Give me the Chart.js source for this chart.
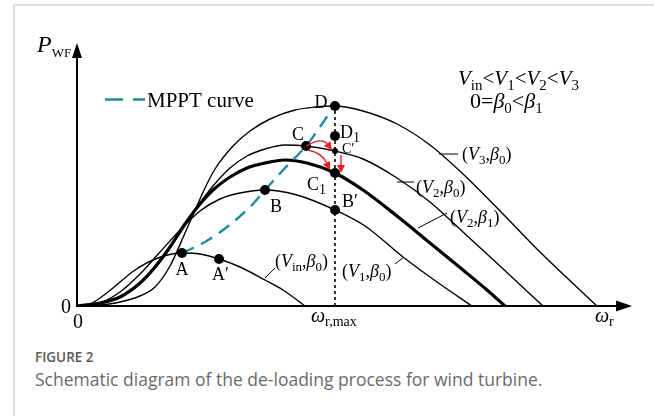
<!DOCTYPE html>
<html>
<head>
<meta charset="utf-8">
<script src="https://cdn.jsdelivr.net/npm/chart.js@4.4.1/dist/chart.umd.min.js"></script>
<style>
html, body { margin: 0; padding: 0; background: #fff; }
body { width: 654px; height: 416px; position: relative; overflow: hidden; }
.frame { position: absolute; left: 13px; top: 4px; right: 0; bottom: 0; border-left: 2px solid #dedede; border-top: 2px solid #dedede; }
#myChart { position: absolute; left: 0; top: 0; }
.cap { position: absolute; left: 35px; top: 348px; font-family: 'Open Sans', sans-serif; }
.cap b { display: block; font-size: 13.5px; font-weight: 600; color: #595959; line-height: 19px; }
.cap span { display: block; font-size: 17.5px; color: #6a6a6a; line-height: 24px; }
</style>
</head>
<body>
<div class="frame"></div>
<canvas id="myChart" width="654" height="330"></canvas>
<div class="cap"><b>FIGURE 2</b><span>Schematic diagram of the de-loading process for wind turbine.</span></div>
<script>
// curves (schematic units: omega_r across, P_WF up)
const vinX = [0, 13, 31, 58, 81, 105, 123, 142, 163, 188, 206, 228];
const vinY = [0, 2, 14, 36, 48, 53, 52, 47, 39, 26, 16, 0];
const v1X = [0, 23, 43, 63, 83, 106, 123, 143, 163, 188, 220, 258, 288, 326, 360, 395];
const v1Y = [0, 3, 14, 32, 54, 79, 95, 107, 113, 116, 111, 96, 80, 49, 24, 0];
const v2b0X = [0, 23, 43, 63, 78, 93, 108, 123, 136, 153, 170, 188, 208, 229, 258, 286, 320, 353, 386, 423, 466];
const v2b0Y = [0, 3, 9, 22, 38, 58, 81, 103, 120, 138, 150, 157, 161, 160, 155, 147, 128, 104, 74, 40, 0];
const v2b1X = [0, 23, 43, 63, 78, 93, 108, 123, 136, 153, 170, 188, 208, 230, 258, 286, 320, 353, 386, 410, 428];
const v2b1Y = [0, 3, 9, 23, 39, 59, 82, 102, 116, 129, 138, 143, 146, 143, 133, 116, 90, 63, 36, 16, 0];
const v3X = [0, 23, 43, 63, 78, 93, 108, 119, 128, 138, 156, 173, 193, 218, 238, 257, 286, 320, 353, 386, 426, 463, 520];
const v3Y = [0, 1, 4, 10, 19, 40, 73, 98, 118, 137, 160, 175, 187, 196, 199, 200, 195, 182, 161, 132, 92, 54, 0];
const mpptX = [105, 128, 150, 173, 188, 208, 229, 243, 257];
const mpptY = [53, 64, 79, 99, 116, 138, 160, 179, 200];

// operating points A, A', B, B', C, C1, D, D1 and the small C'
const ptNames = ['A', 'A′', 'B', 'B′', 'C', 'C1', 'D', 'D1'];
const ptX = [105, 142, 188, 258, 229, 258, 258, 258];
const ptY = [53, 47, 116, 96, 160, 133, 200, 170];
const cPrimeX = [258];
const cPrimeY = [155];

const wrMax = 258;
const wrMaxTop = 200;
const xMax = 555;
const yMax = 263;

const SERIF = "'Liberation Serif', 'Times New Roman', serif";
const RED = '#e3211c';

function pts(xs, ys) {
    return xs.map((x, i) => ({ x: x, y: ys[i] }));
}

function curve(label, xs, ys, w) {
    return {
        label: label,
        data: pts(xs, ys),
        showLine: true,
        borderColor: '#000',
        borderWidth: w,
        pointRadius: 0,
        cubicInterpolationMode: 'monotone',
        fill: false
    };
}

// text with italics and subscripts, drawn left to right
function rich(c, x, y, segs, size, align) {
    let w = 0;
    const parts = segs.map(s => {
        const sub = s[1] === 's';
        const sz = sub ? (s[2] || Math.round(size * 0.7)) : size;
        const f = (s[1] === 'i' ? 'italic ' : '') + sz + 'px ' + SERIF;
        c.font = f;
        const m = c.measureText(s[0]).width;
        w += m;
        return { t: s[0], f: f, m: m, dy: sub ? size * 0.22 : 0 };
    });
    let cx = align === 'center' ? x - w / 2 : x;
    parts.forEach(p => {
        c.font = p.f;
        c.fillText(p.t, cx, y + p.dy);
        cx += p.m;
    });
}

const textLabels = [
    { x: 70, y: 199, s: [['MPPT curve', 'n']], size: 21 },
    { x: -40, y: 254, s: [['P', 'i'], ['WF', 's', 13]], size: 24 },
    { x: -11, y: -7, s: [['0', 'n']], size: 20, align: 'center' },
    { x: 1, y: -22, s: [['0', 'n']], size: 20, align: 'center' },
    { x: 234, y: -16, s: [['ω', 'i'], ['r,max', 's', 14]], size: 20 },
    { x: 518, y: -16, s: [['ω', 'i'], ['r', 's', 14]], size: 20 },
    { x: 381, y: 221, s: [['V', 'i'], ['in', 's'], ['<', 'n'], ['V', 'i'], ['1', 's'], ['<', 'n'], ['V', 'i'], ['2', 's'], ['<', 'n'], ['V', 'i'], ['3', 's']], size: 21 },
    { x: 393, y: 198, s: [['0=', 'n'], ['β', 'i'], ['0', 's'], ['<', 'n'], ['β', 'i'], ['1', 's']], size: 22 },
    { x: 385, y: 146, s: [['(', 'n'], ['V', 'i'], ['3', 's'], [',', 'n'], ['β', 'i'], ['0', 's'], [')', 'n']], size: 18 },
    { x: 339, y: 113, s: [['(', 'n'], ['V', 'i'], ['2', 's'], [',', 'n'], ['β', 'i'], ['0', 's'], [')', 'n']], size: 18 },
    { x: 373, y: 83, s: [['(', 'n'], ['V', 'i'], ['2', 's'], [',', 'n'], ['β', 'i'], ['1', 's'], [')', 'n']], size: 18 },
    { x: 265, y: 29, s: [['(', 'n'], ['V', 'i'], ['1', 's'], [',', 'n'], ['β', 'i'], ['0', 's'], [')', 'n']], size: 18 },
    { x: 198, y: 39, s: [['(', 'n'], ['V', 'i'], ['in', 's'], [',', 'n'], ['β', 'i'], ['0', 's'], [')', 'n']], size: 18 },
    { x: 105, y: 31, s: [['A', 'n']], size: 18, align: 'center' },
    { x: 135, y: 26, s: [['A′', 'n']], size: 18 },
    { x: 199, y: 94, s: [['B', 'n']], size: 18, align: 'center' },
    { x: 265, y: 99, s: [['B′', 'n']], size: 18 },
    { x: 221, y: 166, s: [['C', 'n']], size: 18, align: 'center' },
    { x: 230, y: 116, s: [['C', 'n'], ['1', 's', 14]], size: 18 },
    { x: 265, y: 153, s: [['C′', 'n']], size: 14 },
    { x: 244, y: 198, s: [['D', 'n']], size: 18, align: 'center' },
    { x: 263, y: 168, s: [['D', 'n'], ['1', 's', 14]], size: 18 }
];

const leaders = [
    [362, 152, 381, 152],
    [320, 124, 337, 124],
    [341, 78, 370, 93],
    [318, 42, 327, 49],
    [188, 28, 198, 38]
];

const redArrows = [
    [229, 160, 245, 169, 255, 156],
    [231, 156, 245, 153, 253, 136],
    [264, 151, 264, 142, 264, 133]
];

const sketchPlugin = {
    id: 'sketch',
    afterDatasetsDraw(chart) {
        const c = chart.ctx;
        const sx = chart.scales.x, sy = chart.scales.y;
        const X = v => sx.getPixelForValue(v);
        const Y = v => sy.getPixelForValue(v);
        const a = chart.chartArea;
        c.save();

        // axes with arrow heads
        c.strokeStyle = '#000';
        c.fillStyle = '#000';
        c.lineWidth = 2;
        c.beginPath();
        c.moveTo(a.left, a.bottom);
        c.lineTo(a.right - 14, a.bottom);
        c.moveTo(a.left, a.bottom + 1);
        c.lineTo(a.left, a.top + 13);
        c.stroke();
        c.beginPath();
        c.moveTo(a.right, a.bottom);
        c.lineTo(a.right - 16, a.bottom - 5.5);
        c.lineTo(a.right - 16, a.bottom + 5.5);
        c.closePath();
        c.fill();
        c.beginPath();
        c.moveTo(a.left, a.top);
        c.lineTo(a.left - 5, a.top + 15);
        c.lineTo(a.left + 5, a.top + 15);
        c.closePath();
        c.fill();

        // legend sample
        c.strokeStyle = '#1b8d9d';
        c.lineWidth = 2.4;
        c.setLineDash([18, 10]);
        c.beginPath();
        c.moveTo(X(28), Y(206.5));
        c.lineTo(X(68), Y(206.5));
        c.stroke();
        c.setLineDash([]);

        // leader lines
        c.strokeStyle = '#000';
        c.lineWidth = 1;
        leaders.forEach(l => {
            c.beginPath();
            c.moveTo(X(l[0]), Y(l[1]));
            c.lineTo(X(l[2]), Y(l[3]));
            c.stroke();
        });

        // red arrows
        c.strokeStyle = RED;
        c.fillStyle = RED;
        c.lineWidth = 1.4;
        redArrows.forEach(r => {
            const x0 = X(r[0]), y0 = Y(r[1]), qx = X(r[2]), qy = Y(r[3]), x1 = X(r[4]), y1 = Y(r[5]);
            const ang = Math.atan2(y1 - qy, x1 - qx);
            const bx = x1 - 8 * Math.cos(ang), by = y1 - 8 * Math.sin(ang);
            c.beginPath();
            c.moveTo(x0, y0);
            c.quadraticCurveTo(qx, qy, bx, by);
            c.stroke();
            c.beginPath();
            c.moveTo(x1, y1);
            c.lineTo(bx + 4 * Math.sin(ang), by - 4 * Math.cos(ang));
            c.lineTo(bx - 4 * Math.sin(ang), by + 4 * Math.cos(ang));
            c.closePath();
            c.fill();
        });

        // texts
        c.fillStyle = '#000';
        c.textBaseline = 'alphabetic';
        textLabels.forEach(t => rich(c, X(t.x), Y(t.y), t.s, t.size, t.align));
        c.restore();
    }
};

const config = {
    type: 'scatter',
    data: {
        datasets: [
            {
                label: 'points',
                data: pts(ptX, ptY),
                pointRadius: 5,
                pointBackgroundColor: '#000',
                pointBorderWidth: 0,
                showLine: false
            },
            {
                label: "C'",
                data: pts(cPrimeX, cPrimeY),
                pointRadius: 3,
                pointBackgroundColor: '#000',
                pointBorderWidth: 0,
                showLine: false
            },
            {
                label: 'MPPT curve',
                data: pts(mpptX, mpptY),
                showLine: true,
                borderColor: '#1b8d9d',
                borderWidth: 2.4,
                borderDash: [13, 8],
                pointRadius: 0,
                cubicInterpolationMode: 'monotone'
            },
            {
                label: 'wr,max',
                data: [{ x: wrMax, y: 0 }, { x: wrMax, y: wrMaxTop }],
                showLine: true,
                borderColor: '#000',
                borderWidth: 1.6,
                borderDash: [3, 3],
                pointRadius: 0
            },
            curve('(V2,b1)', v2b1X, v2b1Y, 3.2),
            curve('(Vin,b0)', vinX, vinY, 1.4),
            curve('(V1,b0)', v1X, v1Y, 1.4),
            curve('(V2,b0)', v2b0X, v2b0Y, 1.4),
            curve('(V3,b0)', v3X, v3Y, 1.4)
        ]
    },
    options: {
        responsive: false,
        animation: false,
        layout: { padding: { left: 77, right: 22, top: 43, bottom: 24 } },
        plugins: { legend: { display: false }, tooltip: { enabled: false } },
        scales: {
            x: { type: 'linear', min: 0, max: xMax, display: false },
            y: { type: 'linear', min: 0, max: yMax, display: false }
        }
    },
    plugins: [sketchPlugin]
};

const myChart = new Chart(document.getElementById('myChart'), config);
</script>
</body>
</html>
